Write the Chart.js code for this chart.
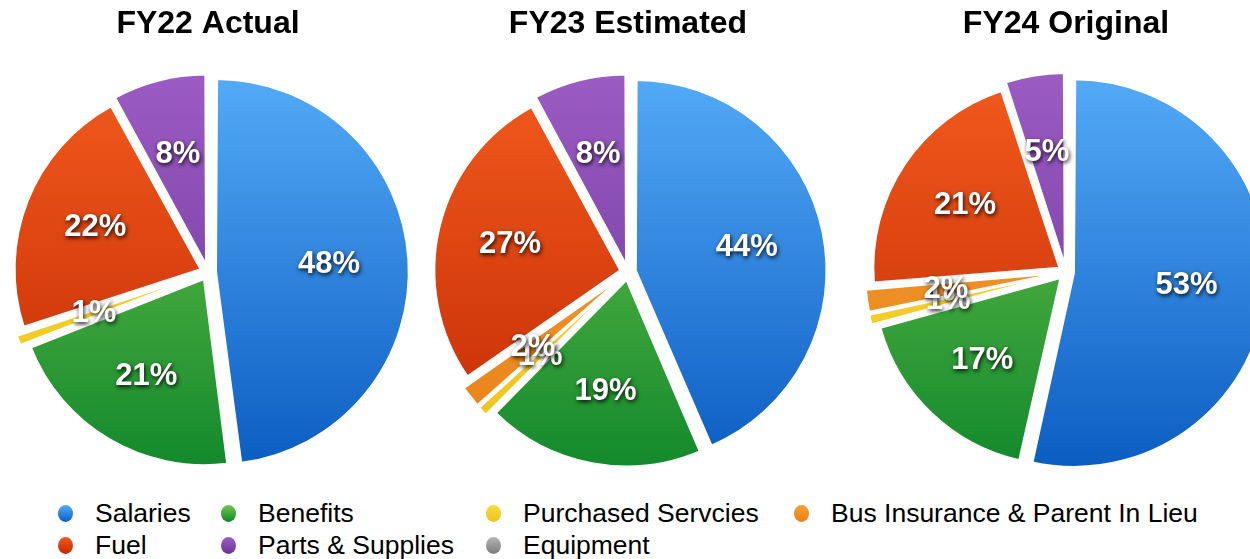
<!DOCTYPE html>
<html>
<head>
<meta charset="utf-8">
<script src="https://cdn.jsdelivr.net/npm/chart.js@4"></script>
<style>
  html, body { margin: 0; padding: 0; background: #fff; }
  body { width: 1250px; height: 559px; position: relative; overflow: hidden; font-family: "Liberation Sans", Arial, sans-serif; }
  .pie { position: absolute; top: 0; width: 428px; height: 479px; }
  .legend-item { position: absolute; font-size: 26.5px; color: #000; line-height: 30px; white-space: nowrap; }
  .legend-item i { position: absolute; left: -37px; top: 7px; width: 15px; height: 17px; border-radius: 50%; }
</style>
</head>
<body>
<div class="pie" style="left:-6px"><canvas id="fy22"></canvas></div>
<div class="pie" style="left:414px"><canvas id="fy23"></canvas></div>
<div class="pie" style="left:852px"><canvas id="fy24"></canvas></div>
<div id="legend"></div>

<script>
const categories = ['Salaries', 'Benefits', 'Purchased Servcies', 'Bus Insurance & Parent In Lieu', 'Fuel', 'Parts & Supplies', 'Equipment'];
const titles = ['FY22 Actual', 'FY23 Estimated', 'FY24 Original'];
const fy22Values = [48, 21, 1, 0, 22, 8, 0];
const fy23Values = [44, 19, 1, 2, 27, 8, 0];
const fy24Values = [53, 17, 1, 2, 21, 5, 0];

// top / bottom shade of each slice gradient
const colorsTop = ['#55acf8', '#74c64e', '#f8dc3e', '#f5a233', '#f35c1e', '#9c5dc5', '#b4b4b4'];
const colorsBottom = ['#0a5bc1', '#0f872b', '#eec21a', '#e87f18', '#c22803', '#6d3396', '#7c7c7c'];

function sliceFill(ctx) {
  const chart = ctx.chart;
  const area = chart.chartArea;
  const i = ctx.dataIndex;
  if (!area) return colorsTop[i];
  const g = chart.ctx.createLinearGradient(0, area.top, 0, area.bottom);
  g.addColorStop(0, colorsTop[i]);
  g.addColorStop(1, colorsBottom[i]);
  return g;
}

// percent labels drawn on the slices
const sliceLabels = {
  id: 'sliceLabels',
  afterDatasetsDraw(chart) {
    const ctx = chart.ctx;
    const meta = chart.getDatasetMeta(0);
    const vals = chart.data.datasets[0].data;
    const shift = chart.data.datasets[0].offset / 4; // arcs move offset/4 px in v4
    ctx.save();
    ctx.font = 'bold 31px "Liberation Sans", Arial, sans-serif';
    ctx.textAlign = 'center';
    ctx.textBaseline = 'middle';
    meta.data.forEach((arc, i) => {
      if (!vals[i]) return;
      const p = arc.getProps(['x', 'y', 'startAngle', 'endAngle', 'outerRadius'], true);
      const mid = (p.startAngle + p.endAngle) / 2;
      const d = shift + p.outerRadius * 0.61;
      const x = p.x + Math.cos(mid) * d;
      const y = p.y + Math.sin(mid) * d;
      ctx.shadowColor = 'rgba(0,0,0,0.9)';
      ctx.shadowBlur = 4;
      ctx.shadowOffsetX = 1;
      ctx.shadowOffsetY = 2;
      ctx.fillStyle = '#fff';
      ctx.fillText(vals[i] + '%', x, y);
    });
    ctx.restore();
  }
};

function makePie(id, title, values) {
  new Chart(document.getElementById(id), {
    type: 'pie',
    data: {
      labels: categories,
      datasets: [{
        data: values,
        backgroundColor: sliceFill,
        borderColor: '#fff',
        borderWidth: 2,
        offset: 32
      }]
    },
    options: {
      responsive: true,
      maintainAspectRatio: false,
      animation: false,
      layout: { padding: { left: 11, right: 11, top: 0, bottom: 4 } },
      plugins: {
        legend: { display: false },
        tooltip: { enabled: false },
        title: {
          display: true,
          text: title,
          color: '#000',
          font: { family: '"Liberation Sans", Arial, sans-serif', size: 32, weight: 'bold' },
          padding: { top: 5, bottom: 26 }
        }
      }
    },
    plugins: [sliceLabels]
  });
}

makePie('fy22', titles[0], fy22Values);
makePie('fy23', titles[1], fy23Values);
makePie('fy24', titles[2], fy24Values);

// shared legend, two rows of four columns
const legendCols = [95, 258, 523, 831];
const legendRows = [498, 530];
const legend = document.getElementById('legend');
categories.forEach((name, i) => {
  const el = document.createElement('div');
  el.className = 'legend-item';
  el.style.left = legendCols[i % 4] + 'px';
  el.style.top = legendRows[Math.floor(i / 4)] + 'px';
  el.innerHTML = '<i style="background:linear-gradient(' + colorsTop[i] + ',' + colorsBottom[i] + ')"></i>' + name;
  legend.appendChild(el);
});
</script>
</body>
</html>
